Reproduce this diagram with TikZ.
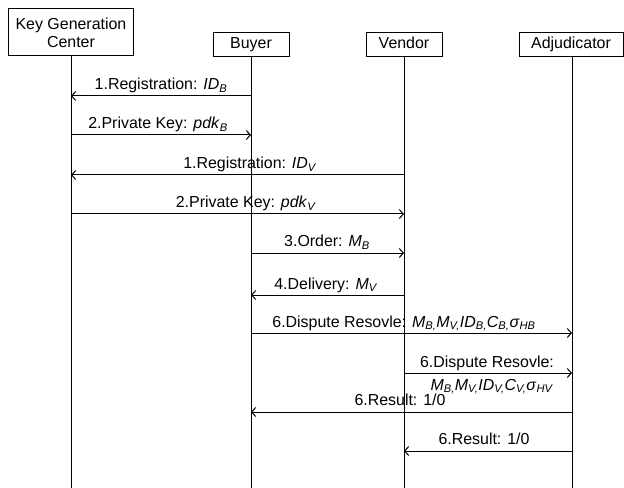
\documentclass[tikz,border=0pt]{standalone}
\usepackage{fontspec}
\setmainfont{Liberation Sans}
\usetikzlibrary{arrows.meta}
\newcommand\vsub[2]{\textit{#1}\textsubscript{\textit{#2}}}
\begin{document}
\begin{tikzpicture}[x=1bp,y=-1bp,
  font=\fontsize{16}{19}\selectfont,
  actor/.style={draw, line width=1bp, inner sep=0pt, align=center, fill=white},
  one/.style={text height=11.5bp, text depth=3.4bp},
  life/.style={line width=1bp},
  msg/.style={line width=1bp, -{Straight Barb[length=4bp,width=9bp]}},
  lbl/.style={anchor=base, inner sep=0pt}]
\useasboundingbox (0,0) rectangle (624,488);
% actors
\node[actor, minimum width=125bp, minimum height=47bp] (kgc) at (71,32.5) {Key Generation\\[-1bp]Center};
\node[actor, one, minimum width=76bp, minimum height=24bp] (buy) at (251,44.5) {Buyer};
\node[actor, one, minimum width=76bp, minimum height=24bp] (ven) at (404,44.5) {Vendor};
\node[actor, one, minimum width=104bp, minimum height=24bp] (adj) at (571,44.5) {Adjudicator};
% lifeline ends
\coordinate (kgcE) at (71,488);
\coordinate (buyE) at (251,488);
\coordinate (venE) at (404,488);
\coordinate (adjE) at (572,488);
\draw[life] (kgc.south) -- (kgcE);
\draw[life] (buy.south) -- (buyE);
\draw[life] (ven.south) -- (venE);
\draw[life] (adj.south -| adjE) -- (adjE);
% message points
\foreach \i/\y in {1/96,2/135,3/175,4/214,5/253,6/295,7/333,8/373,9/412,10/451}{
  \coordinate (k\i) at (71,\y);
  \coordinate (b\i) at (251,\y);
  \coordinate (v\i) at (404,\y);
  \coordinate (a\i) at (572,\y);
}
\draw[msg] (b1) -- (k1);
\node[lbl] (l1) at (161,90) {1.Registration: \vsub{ID}{B}};
\draw[msg] (k2) -- (b2);
\node[lbl] (l2) at (158,129) {2.Private Key: \vsub{pdk}{B}};
\draw[msg] (v3) -- (k3);
\node[lbl] (l3) at (250,169) {1.Registration: \vsub{ID}{V}};
\draw[msg] (k4) -- (v4);
\node[lbl] (l4) at (246,208) {2.Private Key: \vsub{pdk}{V}};
\draw[msg] (b5) -- (v5);
\node[lbl] (l5) at (327,247) {3.Order: \vsub{M}{B}};
\draw[msg] (v6) -- (b6);
\node[lbl] (l6) at (326,289) {4.Delivery: \vsub{M}{V}};
\draw[msg] (b7) -- (a7);
\node[lbl] (l7) at (404,327) {6.Dispute Resovle: \vsub{M}{B,}\vsub{M}{V,}\vsub{ID}{B,}\vsub{C}{B,}\vsub{σ}{HB}};
\draw[msg] (v8) -- (a8);
\node[lbl] (l8a) at (487,367) {6.Dispute Resovle:};
\node[lbl] (l8b) at (492,390) {\vsub{M}{B,}\vsub{M}{V,}\vsub{ID}{V,}\vsub{C}{V,}\vsub{σ}{HV}};
\draw[msg] (a9) -- (b9);
\node[lbl] (l9) at (400,405) {6.Result: 1/0};
\draw[msg] (a10) -- (v10);
\node[lbl] (l10) at (484,444) {6.Result: 1/0};
\end{tikzpicture}
\end{document}
